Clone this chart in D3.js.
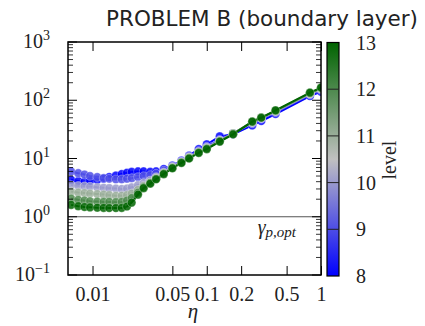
<!DOCTYPE html>
<html>
<head>
<meta charset="utf-8">
<script src="https://cdn.jsdelivr.net/npm/d3@7"></script>
<style>
  body { margin: 0; background: #fff; }
  svg { display: block; }
  .axis path { display: none; }
  .axis line { stroke: #000; stroke-width: 1; }
</style>
</head>
<body>
<div id="chart"></div>
<script>
const eta = [0.0065, 0.0075, 0.0085, 0.0095, 0.011, 0.0125, 0.014, 0.016, 0.018, 0.02,
  0.022, 0.025, 0.028, 0.032, 0.036, 0.042, 0.05, 0.06, 0.07, 0.085,
  0.1, 0.13, 0.17, 0.25, 0.3, 0.4, 0.8, 1.0];

const levels = [8, 9, 10, 11, 12, 13];

const gamma8 = [4.3, 4.1, 4.0, 4.1, 4.3, 4.5, 4.8, 5.1, 5.4, 5.7, 5.9, 6.0, 6.0, 5.9, 6.0, 6.6, 7.6, 9.2, 11.2, 14.5, 17.5, 24, 26, 37, 44, 58, 118, 140];
const gamma9 = [6.0, 5.6, 5.3, 5.0, 4.8, 4.6, 4.5, 4.4, 4.4, 4.5, 4.6, 4.8, 5.0, 5.2, 5.5, 6.2, 7.4, 9.0, 11, 13.5, 16, 21, 27, 40, 48, 62, 125, 150];
const gamma10 = [3.5, 3.4, 3.35, 3.3, 3.2, 3.15, 3.1, 3.05, 3.0, 3.05, 3.2, 3.5, 3.8, 4.2, 4.8, 5.8, 7.2, 8.8, 10.6, 13, 15.5, 20.5, 27, 41, 49, 64, 128, 155];
const gamma11 = [2.7, 2.6, 2.55, 2.5, 2.45, 2.4, 2.35, 2.3, 2.3, 2.35, 2.5, 2.9, 3.4, 3.9, 4.6, 5.6, 7, 8.6, 10.4, 12.8, 15, 20, 27, 42, 50, 65, 130, 158];
const gamma12 = [2.05, 1.95, 1.9, 1.85, 1.82, 1.8, 1.8, 1.78, 1.8, 1.9, 2.1, 2.6, 3.2, 3.8, 4.5, 5.5, 6.9, 8.5, 10.2, 12.6, 14.8, 19.8, 26.5, 43, 51, 66, 133, 162];
const gamma13 = [1.6, 1.52, 1.47, 1.45, 1.43, 1.42, 1.41, 1.41, 1.42, 1.5, 1.75, 2.4, 3.1, 3.7, 4.4, 5.4, 6.8, 8.4, 10, 12.5, 14.5, 19.5, 26, 43, 50, 67, 135, 165];
const gammaByLevel = [gamma8, gamma9, gamma10, gamma11, gamma12, gamma13];

const gammaOpt = 1;
const xTicks = [0.01, 0.05, 0.1, 0.2, 0.5, 1];
const xTickLabels = ["0.01", "0.05", "0.1", "0.2", "0.5", "1"];
const yDecades = [-1, 0, 1, 2, 3];
const levelTicks = [8, 9, 10, 11, 12, 13];

const W = 425, H = 326;
const plot = { left: 68, right: 321, top: 42, bottom: 275 };

const svg = d3.select("#chart").append("svg")
  .attr("width", W)
  .attr("height", H);

const x = d3.scaleLog().domain([0.0061, 1]).range([plot.left, plot.right]);
const y = d3.scaleLog().domain([0.1, 1000]).range([plot.bottom, plot.top]);

const color = d3.scaleLinear()
  .domain([8, 10.5, 13])
  .range(["#0000ff", "#c0c0c0", "#006400"]);

const serif = "'Liberation Serif', 'DejaVu Serif', serif";

// horizontal reference line
svg.append("line")
  .attr("x1", plot.left).attr("x2", plot.right)
  .attr("y1", y(gammaOpt)).attr("y2", y(gammaOpt))
  .attr("stroke", "#555").attr("stroke-width", 1.2);

const gLab = svg.append("text")
  .attr("x", 296).attr("y", 234)
  .attr("text-anchor", "end")
  .attr("font-family", serif)
  .attr("font-style", "italic")
  .attr("font-size", 20)
  .attr("fill", "#222");
gLab.append("tspan").text("γ");
gLab.append("tspan").attr("font-size", 15).attr("dy", 3).text("p,opt");

// series
svg.append("clipPath").attr("id", "clip")
  .append("rect")
  .attr("x", plot.left).attr("y", plot.top)
  .attr("width", plot.right - plot.left).attr("height", plot.bottom - plot.top);

const seriesG = svg.append("g").attr("clip-path", "url(#clip)");
const line = d3.line().x(d => x(d[0])).y(d => y(d[1]));

levels.forEach((lev, i) => {
  const pts = eta.map((e, j) => [e, gammaByLevel[i][j]]);
  const c = color(lev);
  const g = seriesG.append("g");
  g.append("path")
    .datum(pts)
    .attr("d", line)
    .attr("fill", "none")
    .attr("stroke", c)
    .attr("stroke-width", 2);
  g.selectAll("circle")
    .data(pts)
    .enter()
    .append("circle")
    .attr("cx", d => x(d[0]))
    .attr("cy", d => y(d[1]))
    .attr("r", 4.3)
    .attr("fill", c)
    .attr("fill-opacity", 0.85)
    .attr("stroke", "#fff")
    .attr("stroke-opacity", 0.5)
    .attr("stroke-width", 0.6);
});

// frame
svg.append("rect")
  .attr("x", plot.left).attr("y", plot.top)
  .attr("width", plot.right - plot.left).attr("height", plot.bottom - plot.top)
  .attr("fill", "none").attr("stroke", "#000").attr("stroke-width", 1.5);

// x axis (ticks inward, bottom and top)
const xAxis = svg.append("g").attr("class", "axis")
  .attr("transform", `translate(0,${plot.bottom})`)
  .call(d3.axisBottom(x).tickValues(xTicks).tickSize(-9).tickPadding(12)
    .tickFormat((d, i) => xTickLabels[i]));
xAxis.selectAll("text")
  .attr("font-family", serif).attr("font-size", 20).attr("fill", "#222");

svg.append("g").attr("class", "axis")
  .attr("transform", `translate(0,${plot.top})`)
  .call(d3.axisTop(x).tickValues(xTicks).tickSize(-9).tickFormat(""));

// y axis minor + major ticks inward, left and right
const yMinor = [];
yDecades.slice(0, -1).forEach(p => {
  for (let k = 2; k <= 9; k++) yMinor.push(k * Math.pow(10, p));
});
const yMajor = yDecades.map(p => Math.pow(10, p));

[[plot.left, 1], [plot.right, -1]].forEach(([x0, dir]) => {
  svg.append("g").selectAll("line")
    .data(yMinor).enter().append("line")
    .attr("x1", x0).attr("x2", x0 + dir * 5)
    .attr("y1", d => y(d)).attr("y2", d => y(d))
    .attr("stroke", "#000").attr("stroke-width", 0.8);
  svg.append("g").selectAll("line")
    .data(yMajor).enter().append("line")
    .attr("x1", x0).attr("x2", x0 + dir * 9)
    .attr("y1", d => y(d)).attr("y2", d => y(d))
    .attr("stroke", "#000").attr("stroke-width", 1);
});

const yLabels = svg.append("g").selectAll("text")
  .data(yDecades).enter().append("text")
  .attr("x", 50)
  .attr("y", d => y(Math.pow(10, d)) + 6)
  .attr("text-anchor", "end")
  .attr("font-family", serif)
  .attr("font-size", 20)
  .attr("fill", "#222");
yLabels.append("tspan").text("10");
yLabels.append("tspan")
  .attr("font-size", 14)
  .attr("dy", -8)
  .text(d => d < 0 ? "\u2212" + Math.abs(d) : String(d));

// x label
svg.append("text")
  .attr("x", 193).attr("y", 318)
  .attr("text-anchor", "middle")
  .attr("font-family", serif)
  .attr("font-style", "italic")
  .attr("font-size", 21)
  .attr("fill", "#222")
  .text("η");

// title
svg.append("text")
  .attr("x", 418).attr("y", 26)
  .attr("text-anchor", "end")
  .attr("font-family", "'DejaVu Sans', sans-serif")
  .attr("font-size", 22)
  .attr("textLength", 312)
  .attr("lengthAdjust", "spacingAndGlyphs")
  .attr("fill", "#222")
  .text("PROBLEM B (boundary layer)");

// colorbar
const cb = { x: 327, w: 12, top: 42.5, bottom: 276 };
const cy = d3.scaleLinear().domain([8, 13]).range([cb.bottom, cb.top]);

const grad = svg.append("defs").append("linearGradient")
  .attr("id", "cbgrad")
  .attr("x1", 0).attr("y1", 1).attr("x2", 0).attr("y2", 0);
d3.range(0, 1.0001, 0.1).forEach(t => {
  grad.append("stop")
    .attr("offset", t)
    .attr("stop-color", color(8 + 5 * t));
});

svg.append("rect")
  .attr("x", cb.x).attr("y", cb.top)
  .attr("width", cb.w).attr("height", cb.bottom - cb.top)
  .attr("fill", "url(#cbgrad)")
  .attr("stroke", "#000").attr("stroke-width", 1.2);

svg.append("g").selectAll("line")
  .data(levelTicks.slice(1, -1)).enter().append("line")
  .attr("x1", cb.x).attr("x2", cb.x + cb.w)
  .attr("y1", d => cy(d)).attr("y2", d => cy(d))
  .attr("stroke", "#222").attr("stroke-width", 1);

svg.append("g").selectAll("text")
  .data(levelTicks).enter().append("text")
  .attr("x", 356)
  .attr("y", d => cy(d) + 7)
  .attr("font-family", serif)
  .attr("font-size", 20)
  .attr("fill", "#222")
  .text(d => d);

svg.append("text")
  .attr("transform", "translate(396,160) rotate(-90)")
  .attr("text-anchor", "middle")
  .attr("font-family", serif)
  .attr("font-size", 20)
  .attr("fill", "#222")
  .text("level");
</script>
</body>
</html>
